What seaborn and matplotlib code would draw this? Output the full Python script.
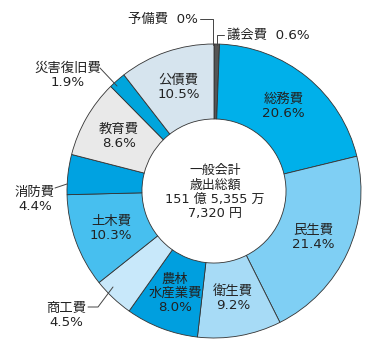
import numpy as np
import matplotlib
matplotlib.use('Agg')
import matplotlib.pyplot as plt
import seaborn as sns

# 一般会計 歳出 (割合 %)
kumoku = ['議会費', '総務費', '民生費', '衛生費', '農林\n水産業費', '商工費',
          '土木費', '消防費', '教育費', '災害復旧費', '公債費', '予備費']
wariai = [0.6, 20.6, 21.4, 9.2, 8.0, 4.5, 10.3, 4.4, 8.6, 1.9, 10.5, 0.0]
iro = ['#555555', '#00b0ea', '#7fcff4', '#a7dbf6', '#009fdf', '#c8e8fa',
       '#47bfef', '#00a2e1', '#e9e9e9', '#00a5dc', '#d6e4ee', '#d6e4ee']
chuo_text = '一般会計\n歳出総額\n151 億 5,355 万\n7,320 円'

sns.set_style('white')
# 数字は DejaVu、漢字は Noto CJK
plt.rcParams['font.family'] = ['DejaVu Sans', 'Noto Sans CJK JP']

W, H = 378, 360
CX, CY, R = 214, 191, 147
fig = plt.figure(figsize=(W / 100, H / 100), dpi=100)
ax = fig.add_axes([0, 0, 1, 1])


def px(x, y):
    # pixel -> data
    return (x - CX) / R, (CY - y) / R


# 0% の項目は扇形を描かない
mask = [w > 0 for w in wariai]
vals = [w for w, m in zip(wariai, mask) if m]
cols = [c for c, m in zip(iro, mask) if m]
ax.pie(vals, colors=cols, startangle=90, counterclock=False, radius=1.0,
       wedgeprops=dict(width=0.51, edgecolor='#333333', linewidth=0.6))

# pie() がリミットを上書きするので後で設定
ax.set_xlim(-CX / R, (W - CX) / R)
ax.set_ylim((CY - H) / R, CY / R)
ax.set_aspect('equal')
ax.axis('off')

fs = 9.6

# 内側ラベル
naibu = ['総務費', '民生費', '衛生費', '農林\n水産業費', '土木費', '教育費', '公債費']
cum = np.cumsum([0] + wariai)
for i, name in enumerate(kumoku):
    if name not in naibu:
        continue
    mid = (cum[i] + wariai[i] / 2) / 100 * 2 * np.pi
    r = 0.745
    x, y = r * np.sin(mid), r * np.cos(mid)
    ax.text(x, y, '{}\n{}%'.format(name, wariai[i]), ha='center', va='center',
            fontsize=fs, linespacing=1.1, color='#222222')

# 外側ラベル
gaibu = {
    '予備費': dict(pos=(198, 19), ha='right', line=[(200, 19), (213, 19), (213, 45)], one=True),
    '議会費': dict(pos=(227, 35), ha='left', line=[(224, 35), (217, 35), (217, 45)], one=True),
    '災害復旧費': dict(pos=(68, 75), ha='center', line=[(100, 68), (117, 86)], one=False),
    '消防費': dict(pos=(35, 199), ha='center', line=[(55, 188), (67, 184)], one=False),
    '商工費': dict(pos=(66, 315), ha='center', line=[(88, 307), (98, 307), (113, 287)], one=False),
}
for name, o in gaibu.items():
    w = wariai[kumoku.index(name)]
    ws = '{:g}'.format(w) if w == 0 else '{}'.format(w)
    s = '{}  {}%'.format(name, ws) if o['one'] else '{}\n{}%'.format(name, ws)
    x, y = px(*o['pos'])
    ax.text(x, y, s, ha=o['ha'], va='center', fontsize=fs, linespacing=1.1,
            color='#222222')
    pts = np.array([px(a, b) for a, b in o['line']])
    ax.plot(pts[:, 0], pts[:, 1], color='#444444', lw=0.7)

# 中央
ax.text(*px(215, 192), chuo_text, ha='center', va='center', fontsize=9.3,
        linespacing=1.15, color='#222222')

plt.savefig('out.png', dpi=100)
